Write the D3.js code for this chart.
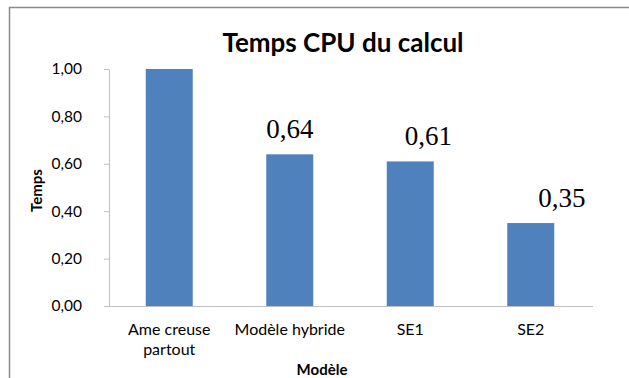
<!DOCTYPE html>
<html>
<head>
<meta charset="utf-8">
<script src="https://cdn.jsdelivr.net/npm/d3@7"></script>
<style>
  html, body { margin: 0; padding: 0; background: #fff; }
  svg { display: block; }
</style>
</head>
<body>
<svg id="chart" width="629" height="378"></svg>
<script>
// Temps CPU relatif par modèle
const categories = [["Ame creuse", "partout"], ["Modèle hybride"], ["SE1"], ["SE2"]];
const values = [1.00, 0.64, 0.61, 0.35];
const showLabel = [false, true, true, true];
const yTicks = [0, 0.2, 0.4, 0.6, 0.8, 1.0];

const W = 629, H = 378;
const margin = { left: 109, right: 38, top: 69, bottom: 72 };
const labelShift = [0, 0, 18, 31];

const fr = d3.formatLocale({ decimal: ",", thousands: " ", grouping: [3], currency: ["", " €"] });
const fmt = fr.format(".2f");

const svg = d3.select("#chart");

// cadre du graphique
svg.append("path")
  .attr("d", `M9.5,${H} V7.5 H${W}`)
  .attr("fill", "none")
  .attr("stroke", "#8a8a8a")
  .attr("stroke-width", 1.5);

const x = d3.scaleBand()
  .domain(d3.range(values.length))
  .range([margin.left, W - margin.right])
  .paddingInner(0.61)
  .paddingOuter(0.305);

const y = d3.scaleLinear()
  .domain([0, 1])
  .range([H - margin.bottom, margin.top]);

// axe vertical
const yAxis = svg.append("g")
  .attr("transform", `translate(${margin.left},0)`)
  .call(d3.axisLeft(y).tickValues(yTicks).tickFormat(fmt).tickSize(5).tickSizeOuter(0).tickPadding(22));
yAxis.select(".domain").attr("stroke", "#bfbfbf");
yAxis.selectAll(".tick line").attr("stroke", "#bfbfbf");
yAxis.selectAll(".tick text")
  .attr("font-family", "Lato, 'Open Sans', sans-serif")
  .attr("font-size", 15.5)
  .attr("fill", "#000");

// barres
svg.append("g").selectAll("rect")
  .data(values)
  .join("rect")
  .attr("x", (d, i) => x(i))
  .attr("y", d => y(d))
  .attr("width", x.bandwidth())
  .attr("height", d => y(0) - y(d))
  .attr("fill", "#4f81bd");

// axe horizontal
svg.append("line")
  .attr("x1", margin.left).attr("x2", W - margin.right + 2)
  .attr("y1", y(0) + 0.5).attr("y2", y(0) + 0.5)
  .attr("stroke", "#bfbfbf");

// étiquettes des catégories
const xl = svg.append("g")
  .attr("font-family", "Lato, 'Open Sans', sans-serif")
  .attr("font-size", 16)
  .attr("text-anchor", "middle")
  .attr("fill", "#000");
categories.forEach((lines, i) => {
  const t = xl.append("text")
    .attr("x", x(i) + x.bandwidth() / 2)
    .attr("y", 335);
  lines.forEach((ln, k) => {
    t.append("tspan")
      .attr("x", x(i) + x.bandwidth() / 2)
      .attr("dy", k === 0 ? 0 : 19.5)
      .text(ln);
  });
});

// valeurs affichées au-dessus des barres
svg.append("g").selectAll("text")
  .data(values.map((v, i) => ({ v, i })).filter(d => showLabel[d.i]))
  .join("text")
  .attr("x", d => x(d.i) + x.bandwidth() / 2 + labelShift[d.i])
  .attr("y", d => y(d.v) - 16)
  .attr("text-anchor", "middle")
  .attr("font-family", "'Liberation Serif', 'Times New Roman', serif")
  .attr("font-size", 27)
  .attr("fill", "#000")
  .text(d => fmt(d.v));

// titre
svg.append("text")
  .attr("x", 343)
  .attr("y", 52)
  .attr("text-anchor", "middle")
  .attr("font-family", "Lato, 'Open Sans', sans-serif")
  .attr("font-weight", "bold")
  .attr("font-size", 26)
  .attr("fill", "#000")
  .text("Temps CPU du calcul");

// titres des axes
svg.append("text")
  .attr("transform", `translate(42,190.5) rotate(-90)`)
  .attr("text-anchor", "middle")
  .attr("font-family", "Lato, 'Open Sans', sans-serif")
  .attr("font-weight", "bold")
  .attr("font-size", 15)
  .attr("fill", "#000")
  .text("Temps");

svg.append("text")
  .attr("x", 322)
  .attr("y", 375)
  .attr("text-anchor", "middle")
  .attr("font-family", "Lato, 'Open Sans', sans-serif")
  .attr("font-weight", "bold")
  .attr("font-size", 15)
  .attr("fill", "#000")
  .text("Modèle");
</script>
</body>
</html>
